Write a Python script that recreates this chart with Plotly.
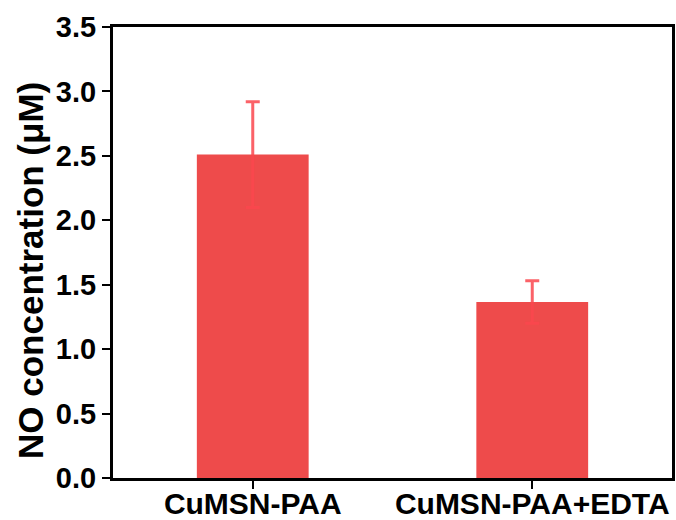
import plotly.graph_objects as go

categories = ["CuMSN-PAA", "CuMSN-PAA+EDTA"]
values = [2.51, 1.365]
errors = [0.41, 0.165]
y_ticks = [0.0, 0.5, 1.0, 1.5, 2.0, 2.5, 3.0, 3.5]
y_title = "NO concentration (μM)"

font_family = "Liberation Sans, Arial, sans-serif"

fig = go.Figure()
fig.add_trace(go.Bar(
    x=categories, y=values,
    width=0.4,
    marker=dict(color="#EE4B4B", line=dict(width=0)),
    error_y=dict(type="data", array=errors, visible=True,
                 color="rgba(250,70,78,0.85)", thickness=3, width=7),
))

fig.update_layout(
    width=676, height=520,
    margin=dict(l=113, r=4, t=27, b=42, autoexpand=False),
    plot_bgcolor="white", paper_bgcolor="white",
    showlegend=False,
    font=dict(family=font_family, color="black"),
)
fig.update_xaxes(
    range=[-0.5, 1.5], automargin=False,
    showline=True, linecolor="black", linewidth=3, mirror=True,
    ticks="outside", ticklen=8, tickwidth=2, tickcolor="black",
    tickfont=dict(size=30, family=font_family, weight="bold"),
    ticklabelstandoff=-11,
    showgrid=False,
)
fig.update_yaxes(
    range=[0, 3.5], automargin=False,
    tickvals=y_ticks, ticktext=[f"{v:.1f}" for v in y_ticks],
    showline=True, linecolor="black", linewidth=3, mirror=True,
    ticks="outside", ticklen=8, tickwidth=2, tickcolor="black",
    tickfont=dict(size=29, family=font_family, weight="bold"),
    showgrid=False, zeroline=False,
)
fig.add_annotation(
    text=y_title, textangle=-90, showarrow=False,
    xref="paper", yref="paper",
    x=-(113 - 30) / 559, y=(478 - 271) / 451,
    xanchor="center", yanchor="middle",
    font=dict(size=35, family=font_family, weight="bold", color="black"),
)

fig.write_html("out.html")
